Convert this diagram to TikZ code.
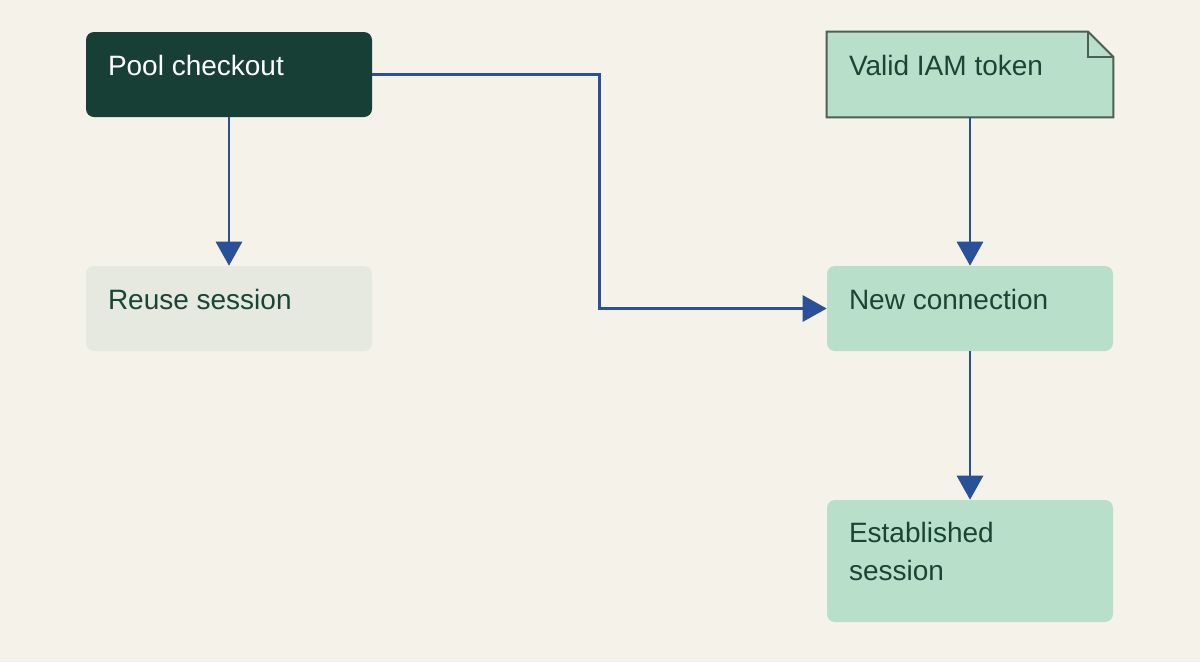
\documentclass[tikz,border=0pt]{standalone}
\usepackage{fontspec}
\setmainfont{Liberation Sans}
\usetikzlibrary{arrows.meta,calc}

\definecolor{bgcream}{HTML}{F5F2EA}
\definecolor{darkpine}{HTML}{173F35}
\definecolor{paleleaf}{HTML}{E5E9E0}
\definecolor{mint}{HTML}{B8DFC9}
\definecolor{noteedge}{HTML}{4B5F52}
\definecolor{inkgreen}{HTML}{1A4536}
\definecolor{flowblue}{HTML}{2A5099}

\begin{document}
\begin{tikzpicture}[x=0.75pt,y=-0.75pt,
    box/.style={minimum width=214.5pt, minimum height=63.75pt, inner sep=0pt, rounded corners=6pt},
    tallbox/.style={box, minimum height=91.5pt},
    txt/.style={anchor=base west, inner sep=0pt, align=left, text=inkgreen,
        font=\fontsize{21}{28.5}\selectfont},
    flow/.style={draw=flowblue, line width=2.2pt, -{Triangle[length=18pt, width=19.5pt]}}]

    % Background and page size
    \fill[bgcream] (0,0) rectangle (1200,662);

    % Boxes
    \node[box, fill=darkpine] (pool) at (229,74.5) {};
    \node[box, fill=paleleaf] (reuse) at (229,308.5) {};
    \node[box] (token) at (970,74.5) {};
    \node[box, fill=mint] (newconn) at (970,308.5) {};
    \node[tallbox, fill=mint] (established) at (970,561) {};

    % Note with folded corner
    \draw[fill=mint, draw=noteedge, line width=1.5pt, line join=miter]
        (token.north west) -- ($(token.north east)+(-25,0)$) -- ($(token.north east)+(0,25)$)
        -- (token.south east) -- (token.south west) -- cycle;
    \draw[draw=noteedge, line width=1.5pt]
        ($(token.north east)+(-25,0)$) -- ($(token.north east)+(-25,25)$) -- ($(token.north east)+(0,25)$);

    % Labels
    \node[txt, text=white] (poolT) at ($(pool.north west)+(22,44)$) {Pool checkout};
    \node[txt] (reuseT) at ($(reuse.north west)+(22,44)$) {Reuse session};
    \node[txt] (tokenT) at ($(token.north west)+(22,44)$) {Valid IAM token};
    \node[txt] (newconnT) at ($(newconn.north west)+(22,44)$) {New connection};
    \node[txt] (establishedT) at ($(established.north west)+(22,81)$) {Established\\session};

    % Connectors
    \draw[flow] (pool.south) -- (reuse.north);
    \draw[flow] (pool.east) -| ($(pool.east)!0.5!(newconn.west)$) |- (newconn.west);
    \draw[flow] (token.south) -- (newconn.north);
    \draw[flow] (newconn.south) -- (established.north);
\end{tikzpicture}
\end{document}
